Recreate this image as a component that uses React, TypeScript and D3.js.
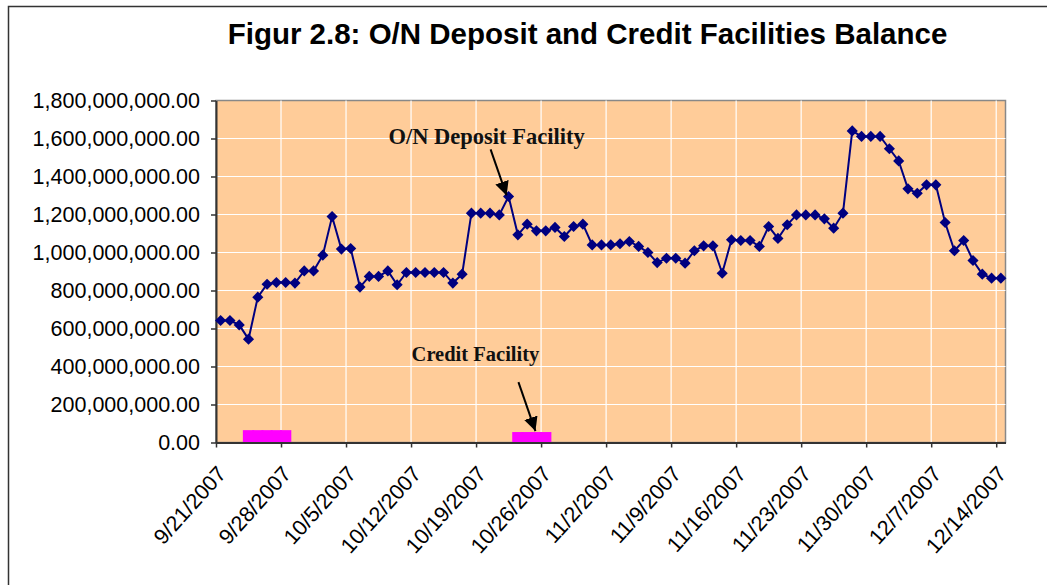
import React, { useEffect, useRef } from "react";
import * as d3 from "d3";

const title = "Figur 2.8: O/N Deposit and Credit Facilities Balance";

const firstDay = "9/21/2007";
const lastDay = "12/14/2007";

// O/N deposit facility balance in millions, one value per day 9/21 .. 12/14
const depositValues = [
  642, 642, 619, 544, 765, 833, 842, 842, 839, 903,
  903, 986, 1189, 1018, 1021, 818, 874, 874, 903, 830,
  895, 895, 895, 895, 895, 839, 886, 1207, 1207, 1207,
  1198, 1295, 1093, 1149, 1114, 1114, 1132, 1084, 1137, 1149,
  1040, 1040, 1040, 1046, 1058, 1032, 1000, 947, 970, 970,
  944, 1009, 1035, 1035, 891, 1067, 1063, 1063, 1032, 1137,
  1074, 1146, 1198, 1198, 1198, 1177, 1128, 1207, 1640, 1611,
  1611, 1611, 1546, 1482, 1335, 1312, 1356, 1356, 1158, 1009,
  1063, 958, 886, 865, 865,
];

// credit facility balance in millions
const creditDates = [
  "9/24/2007", "9/25/2007", "9/26/2007", "9/27/2007", "9/28/2007",
  "10/23/2007", "10/24/2007", "10/25/2007", "10/26/2007",
];
const creditValues = [65, 65, 65, 65, 65, 55, 55, 55, 55];

const xTickLabels = [
  "9/21/2007", "9/28/2007", "10/5/2007", "10/12/2007", "10/19/2007",
  "10/26/2007", "11/2/2007", "11/9/2007", "11/16/2007", "11/23/2007",
  "11/30/2007", "12/7/2007", "12/14/2007",
];
const yTicks = [0, 200, 400, 600, 800, 1000, 1200, 1400, 1600, 1800];

const parse = d3.timeParse("%m/%d/%Y");

const App = () => {
  const ref = useRef(null);

  useEffect(() => {
    const svg = d3.select(ref.current);
    svg.selectAll("*").remove();

    const left = 216, right = 1005.5, top = 100.5, bottom = 442.5;
    const start = parse(firstDay);
    const end = d3.timeDay.offset(parse(lastDay), 1);
    const days = d3.timeDay.range(start, end);
    const data = days.map((d, i) => ({ date: d, value: depositValues[i] }));

    const x = d3.scaleTime().domain([start, end]).range([left, right]);
    const y = d3.scaleLinear().domain([0, 1800]).range([bottom, top]);
    const mid = (d) => x(d3.timeHour.offset(d, 12)); // points sit in the middle of the day

    // outer frame
    svg.append("rect")
      .attr("x", 8.5).attr("y", 6.5)
      .attr("width", 1100).attr("height", 700)
      .attr("fill", "white").attr("stroke", "#333").attr("stroke-width", 1.5);

    svg.append("text")
      .attr("x", 587.5).attr("y", 44)
      .attr("text-anchor", "middle")
      .style("font-family", "Liberation Sans, Arial, sans-serif")
      .style("font-weight", "bold").style("font-size", "29.5px")
      .text(title);

    // plot area
    svg.append("rect")
      .attr("x", left).attr("y", top)
      .attr("width", right - left).attr("height", bottom - top)
      .attr("fill", "#FFCC99").attr("stroke", "#888").attr("stroke-width", 1.5);

    const tickDates = xTickLabels.map(parse);

    // grid
    svg.append("g").selectAll("line").data(yTicks.slice(1, -1)).join("line")
      .attr("x1", left).attr("x2", right)
      .attr("y1", (d) => y(d)).attr("y2", (d) => y(d))
      .attr("stroke", "white").attr("stroke-width", 1.2);
    svg.append("g").selectAll("line").data(tickDates.slice(1)).join("line")
      .attr("x1", (d) => x(d)).attr("x2", (d) => x(d))
      .attr("y1", top).attr("y2", bottom)
      .attr("stroke", "white").attr("stroke-width", 1.2);

    // credit facility bars
    const step = x(d3.timeDay.offset(start, 1)) - x(start);
    svg.append("g").selectAll("rect").data(creditDates.map(parse)).join("rect")
      .attr("x", (d) => x(d) - 1)
      .attr("width", step + 2)
      .attr("y", (d, i) => y(creditValues[i]))
      .attr("height", (d, i) => bottom - y(creditValues[i]))
      .attr("fill", "#FF00FF");

    // axes
    const yAxis = d3.axisLeft(y).tickValues(yTicks).tickSize(5).tickSizeOuter(0)
      .tickPadding(11)
      .tickFormat((d) => d3.format(",.2f")(d * 1e6));
    const gy = svg.append("g").attr("transform", `translate(${left},0)`).call(yAxis);
    gy.select(".domain").attr("stroke", "#333").attr("stroke-width", 2);
    gy.selectAll(".tick line").attr("stroke", "#333").attr("stroke-width", 1.5);
    gy.selectAll("text")
      .style("font-family", "Liberation Sans, Arial, sans-serif")
      .style("font-size", "21.5px").attr("fill", "#000");

    const xAxis = d3.axisBottom(x).tickValues(tickDates).tickSize(5).tickSizeOuter(0)
      .tickFormat((d, i) => xTickLabels[i]);
    const gx = svg.append("g").attr("transform", `translate(0,${bottom})`).call(xAxis);
    gx.select(".domain").attr("stroke", "#333").attr("stroke-width", 2);
    gx.selectAll(".tick line").attr("stroke", "#333").attr("stroke-width", 1.5);
    gx.selectAll("text")
      .style("font-family", "Liberation Sans, Arial, sans-serif")
      .style("font-size", "21.5px").attr("fill", "#000")
      .attr("text-anchor", "end")
      .attr("dy", null).attr("y", null)
      .attr("dominant-baseline", "central")
      .attr("transform", "translate(5.5,27.5) rotate(-48)");

    // deposit line
    const lineGen = d3.line().x((d) => mid(d.date)).y((d) => y(d.value));
    svg.append("path").datum(data)
      .attr("d", lineGen)
      .attr("fill", "none").attr("stroke", "#000080").attr("stroke-width", 2);
    const diamond = d3.symbol(d3.symbolSquare, 62);
    svg.append("g").selectAll("path").data(data).join("path")
      .attr("d", diamond)
      .attr("transform", (d) => `translate(${mid(d.date)},${y(d.value)}) rotate(45)`)
      .attr("fill", "#000080");

    // annotations
    const defs = svg.append("defs");
    defs.append("marker").attr("id", "head")
      .attr("viewBox", "0 0 10 10").attr("refX", 10).attr("refY", 5)
      .attr("markerWidth", 7).attr("markerHeight", 7)
      .attr("markerUnits", "strokeWidth").attr("orient", "auto")
      .append("path").attr("d", "M0,0 L10,5 L0,10 Z").attr("fill", "#000");

    const notes = [
      { text: "O/N Deposit Facility", size: 22.5, date: parse("10/22/2007"), value: 1295, tipDx: -2, tipDy: -1, fromDx: -16, fromDy: -46, textDx: -20, textDy: -51 },
      { text: "Credit Facility", size: 20.5, date: parse("10/25/2007"), value: 55, tipDx: -1, tipDy: -1, fromDx: -17, fromDy: -49, textDx: -60, textDy: -70 },
    ];
    notes.forEach((n) => {
      const tx = mid(n.date) + n.tipDx;
      const ty = y(n.value) + n.tipDy;
      svg.append("line")
        .attr("x1", tx + n.fromDx).attr("y1", ty + n.fromDy)
        .attr("x2", tx).attr("y2", ty)
        .attr("stroke", "#000").attr("stroke-width", 2)
        .attr("marker-end", "url(#head)");
      svg.append("text")
        .attr("x", tx + n.textDx).attr("y", ty + n.textDy)
        .attr("text-anchor", "middle")
        .style("font-family", "Liberation Serif, Times New Roman, serif")
        .style("font-weight", "bold").style("font-size", `${n.size}px`)
        .attr("fill", "#111")
        .text(n.text);
    });
  }, []);

  return (
    <svg ref={ref} width={1047} height={585}
      style={{ position: "absolute", left: 0, top: 0, background: "white" }} />
  );
};

export default App;
